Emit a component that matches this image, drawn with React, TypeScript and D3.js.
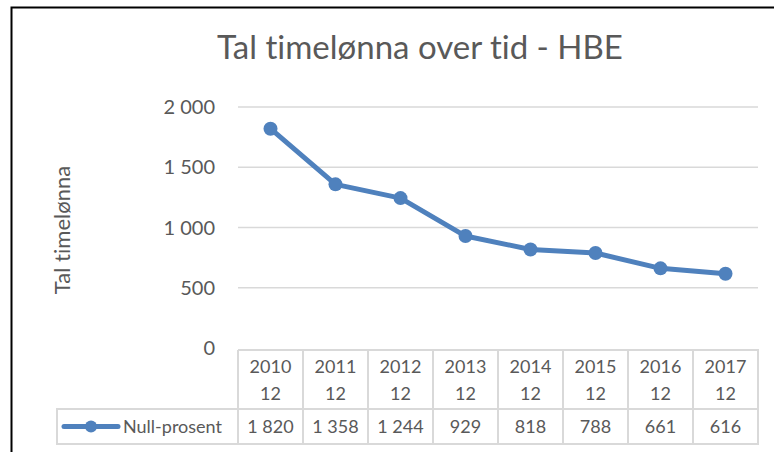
import React, { useEffect, useRef } from 'react';
import * as d3 from 'd3';

const years = ['2010', '2011', '2012', '2013', '2014', '2015', '2016', '2017'];
const months = ['12', '12', '12', '12', '12', '12', '12', '12'];
const values = [1820, 1358, 1244, 929, 818, 788, 661, 616];
const yTicks = [0, 500, 1000, 1500, 2000];
const seriesName = 'Null-prosent';

export default function App() {
    const svgRef = useRef<SVGSVGElement>(null);

    const width = 774;
    const height = 452;

    const margin = { top: 107, right: 16, bottom: 104, left: 238 };
    const innerWidth = width - margin.left - margin.right;
    const innerHeight = height - margin.top - margin.bottom;

    const font = 'Lato, "Open Sans", sans-serif';
    const textColor = '#595959';
    const gridColor = '#d9d9d9';
    const lineColor = '#4f81bd';

    useEffect(() => {
        const svg = d3.select(svgRef.current)
            .attr('width', width)
            .attr('height', height)
            .style('font-variant-ligatures', 'none');

        svg.selectAll('*').remove();

        svg.append('rect')
            .attr('width', width)
            .attr('height', height)
            .attr('fill', '#fff');

        // chart frame (only top and left edges show)
        svg.append('path')
            .attr('d', `M11.5,${height} V7.5 H${width}`)
            .attr('fill', 'none')
            .attr('stroke', '#000')
            .attr('stroke-width', 2);

        svg.append('text')
            .attr('x', 420)
            .attr('y', 59)
            .attr('text-anchor', 'middle')
            .attr('font-family', font)
            .attr('font-size', 33)
            .attr('fill', textColor)
            .text('Tal timelønna over tid - HBE');

        const xScale = d3.scaleBand()
            .domain(years)
            .range([0, innerWidth]);

        const yScale = d3.scaleLinear()
            .domain([0, 2000])
            .range([innerHeight, 0]);

        const g = svg.append('g')
            .attr('transform', `translate(${margin.left}, ${margin.top})`);

        // gridlines
        g.selectAll('.grid')
            .data(yTicks.filter(d => d > 0))
            .enter()
            .append('line')
            .attr('x1', 0)
            .attr('x2', innerWidth)
            .attr('y1', d => yScale(d))
            .attr('y2', d => yScale(d))
            .attr('stroke', gridColor)
            .attr('stroke-width', 1.5);

        const fmt = (v: number) => d3.format(',')(v).replace(',', ' ');

        g.selectAll('.ytick')
            .data(yTicks)
            .enter()
            .append('text')
            .attr('x', -23)
            .attr('y', d => yScale(d))
            .attr('dy', '0.35em')
            .attr('text-anchor', 'end')
            .attr('font-family', font)
            .attr('font-size', 20)
            .attr('fill', textColor)
            .text(d => fmt(d));

        svg.append('text')
            .attr('transform', `translate(70, 230) rotate(-90)`)
            .attr('text-anchor', 'middle')
            .attr('font-family', font)
            .attr('font-size', 22)
            .attr('fill', textColor)
            .text('Tal timelønna');

        // data table
        const headerH = 59;
        const rowH = 35;
        const legendLeft = 57 - margin.left;
        const t = g.append('g').attr('transform', `translate(0, ${innerHeight + 2})`);

        const tableLines = t.append('g')
            .attr('stroke', gridColor)
            .attr('stroke-width', 2)
            .attr('fill', 'none');

        tableLines.append('path')
            .attr('d', `M0,0 H${innerWidth} V${headerH + rowH} H${legendLeft} V${headerH} H${innerWidth} M0,0 V${headerH + rowH}`);

        years.forEach((y, i) => {
            if (i > 0) {
                tableLines.append('line')
                    .attr('x1', xScale(y)!)
                    .attr('x2', xScale(y)!)
                    .attr('y1', 0)
                    .attr('y2', headerH + rowH);
            }
        });

        const cx = (d: string) => xScale(d)! + xScale.bandwidth() / 2;

        t.selectAll('.year')
            .data(years)
            .enter()
            .append('text')
            .attr('x', d => cx(d))
            .attr('y', 23)
            .attr('text-anchor', 'middle')
            .attr('font-family', font)
            .attr('font-size', 18)
            .attr('fill', textColor)
            .text(d => d);

        t.selectAll('.month')
            .data(months)
            .enter()
            .append('text')
            .attr('x', (d, i) => cx(years[i]))
            .attr('y', 50)
            .attr('text-anchor', 'middle')
            .attr('font-family', font)
            .attr('font-size', 18)
            .attr('fill', textColor)
            .text(d => d);

        t.selectAll('.val')
            .data(values)
            .enter()
            .append('text')
            .attr('x', (d, i) => cx(years[i]))
            .attr('y', headerH + rowH / 2)
            .attr('dy', '0.35em')
            .attr('text-anchor', 'middle')
            .attr('font-family', font)
            .attr('font-size', 18)
            .attr('fill', textColor)
            .text(d => fmt(d));

        // legend key
        const ly = headerH + rowH / 2;
        t.append('line')
            .attr('x1', legendLeft + 7)
            .attr('x2', legendLeft + 61)
            .attr('y1', ly)
            .attr('y2', ly)
            .attr('stroke', lineColor)
            .attr('stroke-width', 5)
            .attr('stroke-linecap', 'round');

        t.append('circle')
            .attr('cx', legendLeft + 34)
            .attr('cy', ly)
            .attr('r', 6)
            .attr('fill', lineColor);

        t.append('text')
            .attr('x', legendLeft + 66)
            .attr('y', ly)
            .attr('dy', '0.35em')
            .attr('font-family', font)
            .attr('font-size', 18)
            .attr('fill', textColor)
            .text(seriesName);

        // series
        const line = d3.line<number>()
            .x((d, i) => cx(years[i]))
            .y(d => yScale(d));

        g.append('path')
            .datum(values)
            .attr('d', line)
            .attr('fill', 'none')
            .attr('stroke', lineColor)
            .attr('stroke-width', 5)
            .attr('stroke-linejoin', 'round');

        g.selectAll('.pt')
            .data(values)
            .enter()
            .append('circle')
            .attr('cx', (d, i) => cx(years[i]))
            .attr('cy', d => yScale(d))
            .attr('r', 7)
            .attr('fill', lineColor);
    });

    return (
        <svg ref={svgRef} style={{ position: 'absolute', left: 0, top: 0 }}></svg>
    );
}
